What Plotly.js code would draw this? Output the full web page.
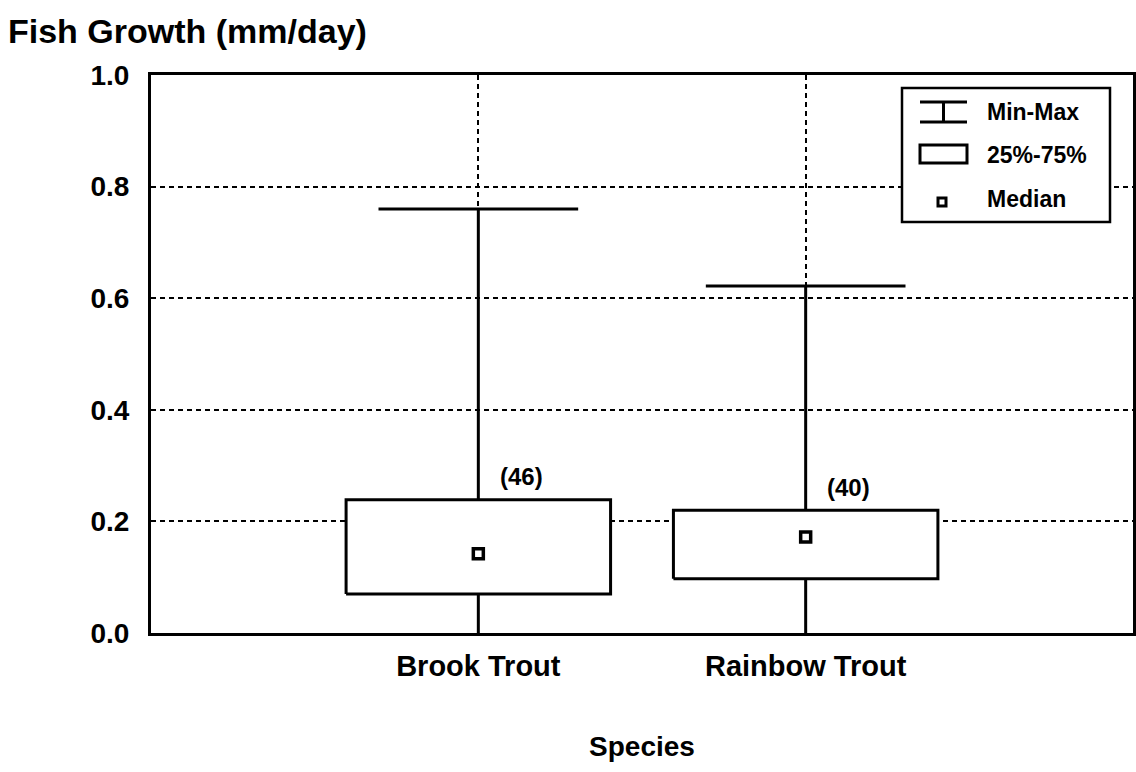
<!DOCTYPE html>
<html><head><meta charset="utf-8">
<script src="https://cdn.plot.ly/plotly-3.0.1.min.js"></script>
<style>html,body{margin:0;padding:0;background:#fff}#chart{width:1136px;height:772px}</style>
</head><body><div id="chart"></div>
<script>
// ---- data ----
const species = ['Brook Trout', 'Rainbow Trout'];
const minVals = [0.0, 0.0];
const q1Vals = [0.070, 0.097];
const medianVals = [0.142, 0.172];
const q3Vals = [0.239, 0.220];
const maxVals = [0.760, 0.622];
const sampleSizes = [46, 40];
const yTicks = [0.0, 0.2, 0.4, 0.6, 0.8, 1.0];
const yTickLabels = ['0.0', '0.2', '0.4', '0.6', '0.8', '1.0'];
const legendLabels = ['Min-Max', '25%-75%', 'Median'];

// ---- layout constants ----
const W = 1136, H = 772, M = {l: 151, r: 3, t: 75, b: 139};
const BOX_HALF = 0.404, CAP_HALF = 0.305;
const FONT = 'Liberation Sans, Arial, sans-serif';
const pos = species.map((_, i) => i + 1);
const px = x => (x - M.l) / (W - M.l - M.r);
const py = y => (H - M.b - y) / (H - M.t - M.b);

// whiskers (min to max) + cap at max
const wx = [], wy = [];
pos.forEach((p, i) => {
  wx.push(p, p, null, p - CAP_HALF, p + CAP_HALF, null);
  wy.push(minVals[i], maxVals[i], null, maxVals[i], maxVals[i], null);
});
// boxes (25%-75%)
const bx = [], by = [];
pos.forEach((p, i) => {
  bx.push(p - BOX_HALF, p + BOX_HALF, p + BOX_HALF, p - BOX_HALF, p - BOX_HALF, null);
  by.push(q1Vals[i], q1Vals[i], q3Vals[i], q3Vals[i], q1Vals[i], null);
});

const traces = [
  {type: 'scatter', mode: 'lines', x: wx, y: wy, line: {color: '#000', width: 3},
   hoverinfo: 'skip', showlegend: false},
  {type: 'scatter', mode: 'lines', x: bx, y: by, fill: 'toself', fillcolor: '#fff',
   line: {color: '#000', width: 3}, hoverinfo: 'skip', showlegend: false},
  {type: 'scatter', mode: 'markers', x: pos, y: medianVals,
   marker: {symbol: 'square', size: 10, color: '#fff', line: {color: '#000', width: 3.5}},
   showlegend: false}
];

const annotations = pos.map((p, i) => ({
  x: p, y: q3Vals[i], xref: 'x', yref: 'y', text: '(' + sampleSizes[i] + ')',
  showarrow: false, xshift: 43, yshift: 23, yanchor: 'middle',
  font: {family: FONT, size: 24, weight: 'bold', color: '#000'}
}));

// manual legend
const legendRowY = [112, 155, 199];
legendLabels.forEach((lab, i) => {
  annotations.push({x: px(985), y: py(legendRowY[i]), xref: 'paper', yref: 'paper',
    text: lab, showarrow: false, xanchor: 'left', yanchor: 'middle',
    font: {family: FONT, size: 23, weight: 'bold', color: '#000'}});
});

const L = {type: 'line', xref: 'paper', yref: 'paper', line: {color: '#000', width: 3}};
const shapes = [
  {type: 'rect', xref: 'paper', yref: 'paper', x0: px(902), x1: px(1110), y0: py(222), y1: py(88),
   fillcolor: '#fff', line: {color: '#000', width: 2.5}, layer: 'above'},
  Object.assign({}, L, {x0: px(920), x1: px(967), y0: py(102), y1: py(102)}),
  Object.assign({}, L, {x0: px(920), x1: px(967), y0: py(122), y1: py(122)}),
  Object.assign({}, L, {x0: px(943.5), x1: px(943.5), y0: py(102), y1: py(122)}),
  {type: 'rect', xref: 'paper', yref: 'paper', x0: px(920), x1: px(967), y0: py(163), y1: py(145),
   fillcolor: '#fff', line: {color: '#000', width: 3}},
  {type: 'rect', xref: 'paper', yref: 'paper', x0: px(938), x1: px(946), y0: py(206), y1: py(198),
   fillcolor: '#fff', line: {color: '#000', width: 3}}
];

const axisCommon = {
  showgrid: true, gridcolor: '#000', gridwidth: 2, griddash: '5px,4px',
  showline: true, mirror: true, linecolor: '#000', linewidth: 3,
  zeroline: false, ticks: '', fixedrange: true
};

const layout = {
  width: W, height: H, margin: M,
  paper_bgcolor: '#fff', plot_bgcolor: '#fff',
  font: {family: FONT, color: '#000'},
  showlegend: false,
  title: {text: 'Fish Growth (mm/day)', xref: 'container', yref: 'container',
          x: 8 / W, xanchor: 'left', y: 1 - 31 / H, yanchor: 'middle',
          font: {family: FONT, size: 34, weight: 'bold', color: '#000'}},
  xaxis: Object.assign({}, axisCommon, {
    range: [0, 3], tickvals: pos, ticktext: species, ticklabelstandoff: 5,
    tickfont: {family: FONT, size: 29, weight: 'bold', color: '#000'},
    title: {text: 'Species', standoff: 56, font: {family: FONT, size: 28, weight: 'bold', color: '#000'}}
  }),
  yaxis: Object.assign({}, axisCommon, {
    range: [0, 1], tickvals: yTicks, ticktext: yTickLabels, ticklabelstandoff: 13,
    tickfont: {family: FONT, size: 28, weight: 'bold', color: '#000'}
  }),
  annotations: annotations,
  shapes: shapes
};

Plotly.newPlot('chart', traces, layout, {displayModeBar: false, staticPlot: true});
</script>
</body></html>
